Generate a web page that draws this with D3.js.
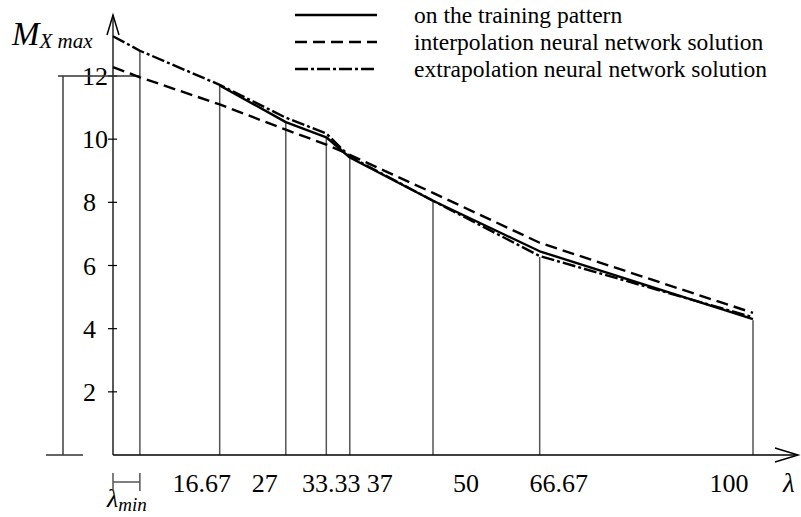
<!DOCTYPE html>
<html><head><meta charset="utf-8">
<script src="https://cdn.jsdelivr.net/npm/d3@7/dist/d3.min.js"></script>
<style>body{margin:0;background:#fff}svg{display:block}</style>
</head><body><svg id="c" width="801" height="517"></svg>
<script>
// ---- data ----
const lambdaMin = 4.2;
const tickLambda = [16.67, 27, 33.33, 37, 50, 66.67, 100];
const tickLabels = ["16.67", "27", "33.33", "37", "50", "66.67", "100"];
const markerLambda = [4.2, 16.67, 27, 33.33, 37, 50, 66.67, 100];
const markerTop = [12.8, 11.7, 10.54, 10.06, 9.43, 8.07, 6.27, 4.27];
const trainLambda = [16.67, 27, 33.33, 37, 50, 66.67, 100];
const trainValues = [11.7, 10.54, 10.06, 9.42, 8.05, 6.45, 4.3];
const interpLambda = [0, 4.2, 16.67, 27, 33.33, 37, 50, 66.67, 100];
const interpValues = [12.28, 11.96, 11.1, 10.3, 9.83, 9.5, 8.3, 6.72, 4.5];
const extrapLambda = [0, 4.2, 16.67, 27, 33.33, 37, 50, 66.67, 100];
const extrapValues = [13.26, 12.8, 11.72, 10.68, 10.18, 9.45, 8.05, 6.3, 4.36];
const yTicks = [2, 4, 6, 8, 10, 12];
const legendLabels = ["on the training pattern", "interpolation neural network solution", "extrapolation neural network solution"];

// ---- layout ----
const FONT = "Liberation Serif";
const svg = d3.select("#c");
const x = d3.scaleLinear().domain([0, 100]).range([113, 753]);
const y = d3.scaleLinear().domain([0, 12]).range([455, 76]);
const labelDx = [-18, -21, 5, 30, 33, 19, -24];
const ink = "#000", grey = "#555";

// vertical marker lines
svg.append("g").selectAll("line").data(markerLambda).join("line")
  .attr("x1", d => x(d)).attr("x2", d => x(d))
  .attr("y1", y(0)).attr("y2", (d, i) => y(markerTop[i]))
  .attr("stroke", grey).attr("stroke-width", 1.5);

// axes
svg.append("line").attr("x1", x(0)).attr("x2", 798).attr("y1", y(0)).attr("y2", y(0)).attr("stroke", ink).attr("stroke-width", 1.3);
svg.append("line").attr("x1", x(0)).attr("x2", x(0)).attr("y1", y(0)).attr("y2", 15).attr("stroke", ink).attr("stroke-width", 1.3);
svg.append("path").attr("d", `M${x(0)-6},35L${x(0)},15L${x(0)+6},35`).attr("fill", "none").attr("stroke", ink).attr("stroke-width", 1.5);
svg.append("path").attr("d", `M775,${y(0)-7}L798,${y(0)}L775,${y(0)+7}`).attr("fill", "none").attr("stroke", ink).attr("stroke-width", 1.5);

// y ticks
const yt = svg.append("g");
yt.selectAll("line").data(yTicks).join("line")
  .attr("x1", x(0) - 5).attr("x2", x(0) + 4).attr("y1", d => y(d)).attr("y2", d => y(d))
  .attr("stroke", ink).attr("stroke-width", 1.2);
yt.selectAll("text").data(yTicks).join("text")
  .attr("font-family", FONT)
  .attr("x", d => d >= 10 ? 108 : 96).attr("y", d => y(d)).attr("dy", "0.35em")
  .attr("text-anchor", "end").attr("font-size", 26).text(d => d);

// x tick labels
svg.append("g").selectAll("text").data(tickLambda).join("text")
  .attr("font-family", FONT)
  .attr("x", (d, i) => x(d) + labelDx[i]).attr("y", 492)
  .attr("text-anchor", "middle").attr("font-size", 26).text((d, i) => tickLabels[i]);

// axis titles
const yl = svg.append("text").attr("font-family", FONT).attr("x", 12).attr("y", 45).attr("font-style", "italic");
yl.append("tspan").attr("font-size", 33).text("M");
yl.append("tspan").attr("font-size", 21).attr("dy", 3).text("X max");
svg.append("text").attr("font-family", FONT).attr("x", 783).attr("y", 492).attr("font-style", "italic").attr("font-size", 27).text("λ");
const lm = svg.append("text").attr("font-family", FONT).attr("x", 107).attr("y", 507).attr("font-style", "italic");
lm.append("tspan").attr("font-size", 26).text("λ");
lm.append("tspan").attr("font-size", 19).attr("dy", 4).text("min");

// lambda-min dimension bracket
const bY = 482;
svg.append("path").attr("d", `M${x(0)},473V491M${x(0)},${bY}H${x(lambdaMin)}M${x(lambdaMin)},473V491`)
  .attr("fill", "none").attr("stroke", grey).attr("stroke-width", 1.5);

// 12-level dimension bracket at left
svg.append("path").attr("d", `M58,${y(12)}H${x(lambdaMin)}M63,${y(12)}V${y(0)}M46,${y(0)}H83`)
  .attr("fill", "none").attr("stroke", "#333").attr("stroke-width", 1.4);

// curves
const line = d3.line().x(d => x(d[0])).y(d => y(d[1])).curve(d3.curveLinear);
const series = [
  {xs: trainLambda, ys: trainValues, dash: null},
  {xs: interpLambda, ys: interpValues, dash: "12,6"},
  {xs: extrapLambda, ys: extrapValues, dash: "13,3,3,3"}
];
series.forEach(s => {
  svg.append("path").datum(s.xs.map((v, i) => [v, s.ys[i]]))
    .attr("d", line).attr("fill", "none").attr("stroke", ink).attr("stroke-width", 2.4)
    .attr("stroke-linejoin", "round").attr("stroke-dasharray", s.dash);
});

// legend
const lg = svg.append("g");
series.forEach((s, i) => {
  const ly = 15 + i * 27;
  lg.append("line").attr("x1", 295).attr("x2", 377).attr("y1", ly).attr("y2", ly)
    .attr("stroke", ink).attr("stroke-width", 2.4).attr("stroke-dasharray", s.dash);
  lg.append("text").attr("font-family", FONT).attr("x", 414).attr("y", ly + 8).attr("font-size", 23.5).text(legendLabels[i]);
});
</script></body></html>
